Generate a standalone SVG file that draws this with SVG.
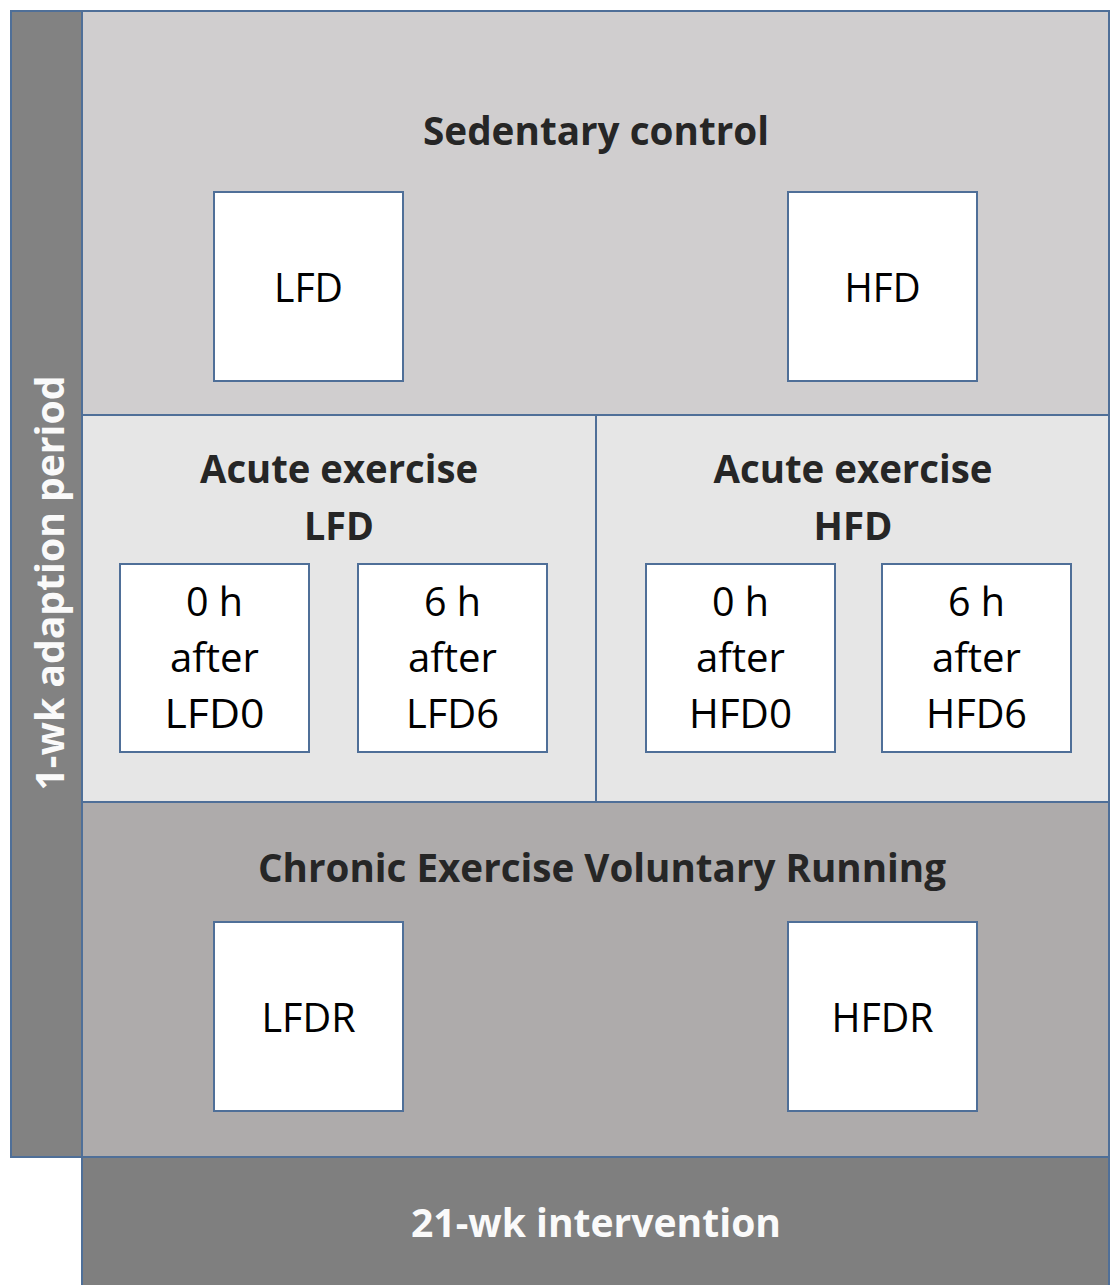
<svg xmlns="http://www.w3.org/2000/svg" width="1111" height="1285" viewBox="0 0 1111 1285">
<style>
.sec{stroke:#4f6f98;stroke-width:2}
.box{fill:#ffffff;stroke:#4f6f98;stroke-width:2}
.t{font-family:"Open Sans","Liberation Sans",sans-serif;font-size:40px;text-anchor:middle}
.b{font-weight:bold;fill:#262626}
.r{fill:#000000}
.w{font-weight:bold;fill:#fafafa}
</style>
<rect width="1111" height="1285" fill="#ffffff"/>
<g id="adaption">
<rect class="sec" x="11" y="11" width="71" height="1146" fill="#828282"/>
<text class="t w" transform="translate(64,583) rotate(-90)" textLength="415" lengthAdjust="spacingAndGlyphs">1-wk adaption period</text>
</g>
<g id="sedentary">
<rect class="sec" x="82" y="11" width="1027" height="404" fill="#d0cecf"/>
<text class="t b" x="596" y="145" textLength="346" lengthAdjust="spacingAndGlyphs">Sedentary control</text>
</g>
<g id="acute-lfd">
<rect class="sec" x="82" y="415" width="514" height="387" fill="#e6e6e6"/>
<text class="t b" x="339" y="483" textLength="278" lengthAdjust="spacingAndGlyphs">Acute exercise</text>
<text class="t b" x="339" y="540" textLength="70" lengthAdjust="spacingAndGlyphs">LFD</text>
</g>
<g id="acute-hfd">
<rect class="sec" x="596" y="415" width="513" height="387" fill="#e6e6e6"/>
<text class="t b" x="853" y="483" textLength="279" lengthAdjust="spacingAndGlyphs">Acute exercise</text>
<text class="t b" x="853" y="540" textLength="79" lengthAdjust="spacingAndGlyphs">HFD</text>
</g>
<g id="chronic">
<rect class="sec" x="82" y="802" width="1027" height="355" fill="#aeabab"/>
<text class="t b" x="602" y="882" textLength="688" lengthAdjust="spacingAndGlyphs">Chronic Exercise Voluntary Running</text>
</g>
<g id="intervention">
<rect class="sec" x="82" y="1157" width="1027" height="130" fill="#7f7f7f"/>
<text class="t w" x="596" y="1237" textLength="370" lengthAdjust="spacingAndGlyphs">21-wk intervention</text>
</g>
<g id="lfd">
<rect class="box" x="214" y="192" width="189" height="189"/>
<text class="t r" x="308.5" y="302" textLength="69" lengthAdjust="spacingAndGlyphs">LFD</text>
</g>
<g id="hfd">
<rect class="box" x="788" y="192" width="189" height="189"/>
<text class="t r" x="882.5" y="302" textLength="76" lengthAdjust="spacingAndGlyphs">HFD</text>
</g>
<g id="lfd0">
<rect class="box" x="120" y="564" width="189" height="188"/>
<text class="t r" x="214.5" y="616" textLength="57" lengthAdjust="spacingAndGlyphs">0 h</text>
<text class="t r" x="214.5" y="672" textLength="89" lengthAdjust="spacingAndGlyphs">after</text>
<text class="t r" x="214.5" y="728" textLength="100" lengthAdjust="spacingAndGlyphs">LFD0</text>
</g>
<g id="lfd6">
<rect class="box" x="358" y="564" width="189" height="188"/>
<text class="t r" x="452.5" y="616" textLength="57" lengthAdjust="spacingAndGlyphs">6 h</text>
<text class="t r" x="452.5" y="672" textLength="89" lengthAdjust="spacingAndGlyphs">after</text>
<text class="t r" x="452.5" y="728" textLength="93" lengthAdjust="spacingAndGlyphs">LFD6</text>
</g>
<g id="hfd0">
<rect class="box" x="646" y="564" width="189" height="188"/>
<text class="t r" x="740.5" y="616" textLength="57" lengthAdjust="spacingAndGlyphs">0 h</text>
<text class="t r" x="740.5" y="672" textLength="89" lengthAdjust="spacingAndGlyphs">after</text>
<text class="t r" x="740.5" y="728" textLength="103" lengthAdjust="spacingAndGlyphs">HFD0</text>
</g>
<g id="hfd6">
<rect class="box" x="882" y="564" width="189" height="188"/>
<text class="t r" x="976.5" y="616" textLength="57" lengthAdjust="spacingAndGlyphs">6 h</text>
<text class="t r" x="976.5" y="672" textLength="89" lengthAdjust="spacingAndGlyphs">after</text>
<text class="t r" x="976.5" y="728" textLength="101" lengthAdjust="spacingAndGlyphs">HFD6</text>
</g>
<g id="lfdr">
<rect class="box" x="214" y="922" width="189" height="189"/>
<text class="t r" x="308.5" y="1032" textLength="94" lengthAdjust="spacingAndGlyphs">LFDR</text>
</g>
<g id="hfdr">
<rect class="box" x="788" y="922" width="189" height="189"/>
<text class="t r" x="882.5" y="1032" textLength="102" lengthAdjust="spacingAndGlyphs">HFDR</text>
</g>
<g id="connectors"></g>
</svg>
